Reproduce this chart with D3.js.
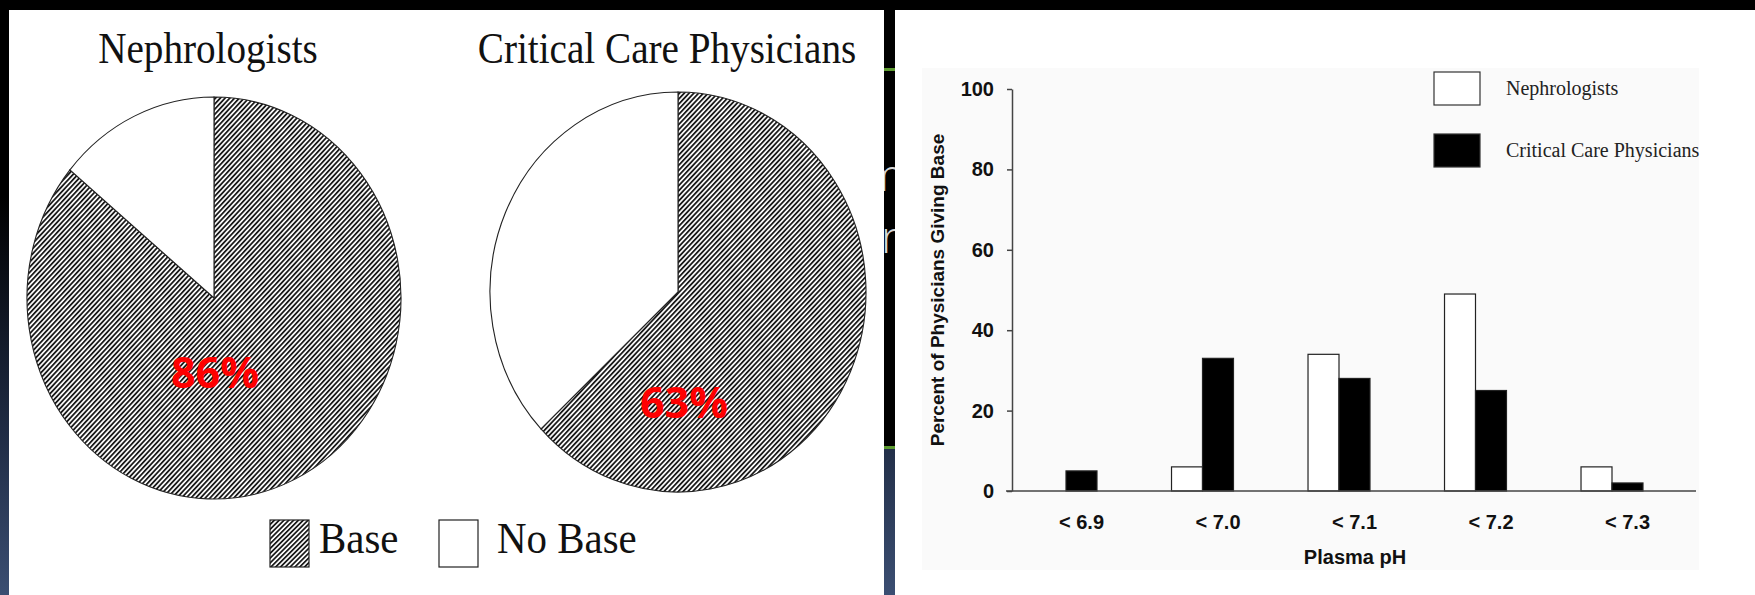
<!DOCTYPE html>
<html>
<head>
<meta charset="utf-8">
<script src="https://cdn.jsdelivr.net/npm/d3@7"></script>
<style>
  html, body { margin: 0; padding: 0; background: #000; }
  svg { display: block; }
</style>
</head>
<body>
<svg id="chart" width="1755" height="595"></svg>
<script>
// ---- Pie data: share of physicians who give base ----
const pieGroups = ["Nephrologists", "Critical Care Physicians"];
const baseShare = [86, 63];
const pieLegend = ["Base", "No Base"];

// ---- Bar data: percent giving base, by plasma pH threshold ----
const phCategories = ["< 6.9", "< 7.0", "< 7.1", "< 7.2", "< 7.3"];
const barSeries = ["Nephrologists", "Critical Care Physicians"];
const nephValues = [0, 6, 34, 49, 6];
const critValues = [5, 33, 28, 25, 2];
const yTicks = [0, 20, 40, 60, 80, 100];

const svg = d3.select("#chart");
const defs = svg.append("defs");

// Slide background: black fading to slate blue at the bottom
const bg = defs.append("linearGradient").attr("id", "slideBg")
  .attr("x1", 0).attr("y1", 0).attr("x2", 0).attr("y2", 1);
[[0, "#000"], [0.33, "#000"], [0.72, "#1f2b43"], [1, "#3b4e72"]].forEach(([o, c]) =>
  bg.append("stop").attr("offset", o).attr("stop-color", c));

// Diagonal hatching, screen space
function hatch(id, spacing, width) {
  const p = defs.append("pattern").attr("id", id)
    .attr("patternUnits", "userSpaceOnUse")
    .attr("width", spacing).attr("height", spacing)
    .attr("patternTransform", "rotate(45)");
  p.append("rect").attr("width", spacing).attr("height", spacing).attr("fill", "#fff");
  p.append("rect").attr("x", 0).attr("y", 0).attr("width", width).attr("height", spacing)
    .attr("fill", "#1a1a1a");
}
hatch("hatch", 3.4, 1.75);
// same hatching for the pies, which are drawn at radius 100 and scaled up ~1.9x
hatch("hatchPie", 1.8, 0.93);

svg.append("rect").attr("width", 1755).attr("height", 595).attr("fill", "url(#slideBg)");
svg.append("rect").attr("x", 200).attr("y", 0).attr("width", 1555).attr("height", 448).attr("fill", "#000");
svg.append("rect").attr("x", 200).attr("y", 68).attr("width", 1555).attr("height", 3).attr("fill", "#5c9a30");
svg.append("rect").attr("x", 200).attr("y", 446).attr("width", 1555).attr("height", 3).attr("fill", "#5c9a30");

// slide body text sitting behind the two figures
const slideText = svg.append("g").attr("fill", "#d6d6d6")
  .style("font-family", "'Open Sans', sans-serif").style("font-weight", 300).style("font-size", "45px");
slideText.append("text").attr("x", 864).attr("y", 191).text("m");
slideText.append("text").attr("x", 881).attr("y", 253).text("r");

// ================= Left figure: pies =================
svg.append("rect").attr("x", 9).attr("y", 10).attr("width", 875).attr("height", 585).attr("fill", "#fff");

const pieGeom = [
  { cx: 214, cy: 298, rx: 187, ry: 201, titleX: 208, labelDx: 1, labelDy: 90 },
  { cx: 678, cy: 292, rx: 188, ry: 200, titleX: 667, labelDx: 6, labelDy: 126 }
];
const pieGen = d3.pie().sort(null).value(d => d.value);
const arcGen = d3.arc().innerRadius(0).outerRadius(100);

pieGroups.forEach((name, i) => {
  const g = pieGeom[i];
  svg.append("text")
    .attr("transform", `translate(${g.titleX},63) scale(0.89,1)`)
    .attr("text-anchor", "middle")
    .style("font-family", "'Liberation Serif', 'Times New Roman', serif")
    .style("font-size", "44px").attr("fill", "#111")
    .text(name);

  const slices = pieGen([
    { key: "Base", value: baseShare[i] },
    { key: "No Base", value: 100 - baseShare[i] }
  ]);
  svg.append("g")
    .attr("transform", `translate(${g.cx},${g.cy}) scale(${g.rx / 100},${g.ry / 100})`)
    .selectAll("path").data(slices).join("path")
    .attr("d", arcGen)
    .attr("fill", d => d.data.key === "Base" ? "url(#hatchPie)" : "#fff")
    .attr("stroke", "#222").attr("stroke-width", 1.1)
    .attr("vector-effect", "non-scaling-stroke");

  svg.append("text")
    .attr("x", g.cx + g.labelDx).attr("y", g.cy + g.labelDy)
    .attr("text-anchor", "middle")
    .style("font-family", "'Open Sans', sans-serif").style("font-weight", 700)
    .style("font-size", "43px").attr("fill", "#ff0000")
    .text(baseShare[i] + "%");
});

// pie legend
const pieLegendPos = [{ x: 270, tx: 319 }, { x: 439, tx: 497 }];
pieLegend.forEach((lab, i) => {
  svg.append("rect").attr("x", pieLegendPos[i].x).attr("y", 520)
    .attr("width", 39).attr("height", 47)
    .attr("fill", i === 0 ? "url(#hatch)" : "#fff")
    .attr("stroke", "#222").attr("stroke-width", 1.2);
  svg.append("text")
    .attr("transform", `translate(${pieLegendPos[i].tx},553) scale(0.93,1)`)
    .style("font-family", "'Liberation Serif', 'Times New Roman', serif")
    .style("font-size", "44px").attr("fill", "#111")
    .text(lab);
});

// ================= Right figure: grouped bars =================
svg.append("rect").attr("x", 895).attr("y", 10).attr("width", 860).attr("height", 585).attr("fill", "#fff");
svg.append("rect").attr("x", 922).attr("y", 68).attr("width", 777).attr("height", 502).attr("fill", "#fafafa");

const x0 = d3.scaleBand().domain(phCategories).range([997.75, 1680.25])
  .paddingInner(0.546).paddingOuter(0.273);
const x1 = d3.scaleBand().domain(barSeries).range([0, x0.bandwidth()]);
const y = d3.scaleLinear().domain([0, 100]).range([491, 89]);

const barRows = phCategories.map((c, i) => ({
  cat: c,
  vals: [{ s: barSeries[0], v: nephValues[i] }, { s: barSeries[1], v: critValues[i] }]
}));

svg.append("g").selectAll("g").data(barRows).join("g")
  .attr("transform", d => `translate(${x0(d.cat)},0)`)
  .selectAll("rect").data(d => d.vals.filter(e => e.v > 0)).join("rect")
  .attr("x", d => x1(d.s)).attr("width", x1.bandwidth())
  .attr("y", d => y(d.v)).attr("height", d => y(0) - y(d.v))
  .attr("fill", d => d.s === barSeries[0] ? "#fff" : "#000")
  .attr("stroke", "#222").attr("stroke-width", 1.2);

// y axis
const yAxis = svg.append("g").attr("transform", "translate(1012,0)")
  .call(d3.axisLeft(y).tickValues(yTicks).tickFormat(d3.format("d"))
    .tickSize(5).tickSizeOuter(0).tickPadding(13));
yAxis.selectAll("path, line").attr("stroke", "#444").attr("stroke-width", 1.5);
yAxis.selectAll("text")
  .style("font-family", "'Liberation Sans', Arial, sans-serif")
  .style("font-weight", 700).style("font-size", "20px").attr("fill", "#111");

// x axis baseline and category labels (centred under each black bar)
svg.append("line").attr("x1", 1006).attr("x2", 1696).attr("y1", y(0)).attr("y2", y(0))
  .attr("stroke", "#444").attr("stroke-width", 1.5);
svg.append("g").selectAll("text").data(phCategories).join("text")
  .attr("x", d => x0(d) + x1(barSeries[1]) + x1.bandwidth() / 2)
  .attr("y", 529).attr("text-anchor", "middle")
  .style("font-family", "'Liberation Sans', Arial, sans-serif")
  .style("font-weight", 700).style("font-size", "20px").attr("fill", "#111")
  .text(d => d);

svg.append("text").attr("x", 1355).attr("y", 564).attr("text-anchor", "middle")
  .style("font-family", "'Liberation Sans', Arial, sans-serif")
  .style("font-weight", 700).style("font-size", "20px").attr("fill", "#111")
  .text("Plasma pH");

svg.append("text").attr("transform", "translate(944,290) rotate(-90)")
  .attr("text-anchor", "middle")
  .style("font-family", "'Liberation Sans', Arial, sans-serif")
  .style("font-weight", 700).style("font-size", "19px").attr("fill", "#111")
  .text("Percent of Physicians Giving Base");

// bar legend
const legY = [72, 134];
barSeries.forEach((s, i) => {
  svg.append("rect").attr("x", 1434).attr("y", legY[i]).attr("width", 46).attr("height", 33)
    .attr("fill", i === 0 ? "#fff" : "#000").attr("stroke", "#333").attr("stroke-width", 1.2);
  svg.append("text").attr("x", 1506).attr("y", legY[i] + 23)
    .style("font-family", "'Liberation Serif', 'Times New Roman', serif")
    .style("font-size", "20px").attr("fill", "#222")
    .text(s);
});
</script>
</body>
</html>
